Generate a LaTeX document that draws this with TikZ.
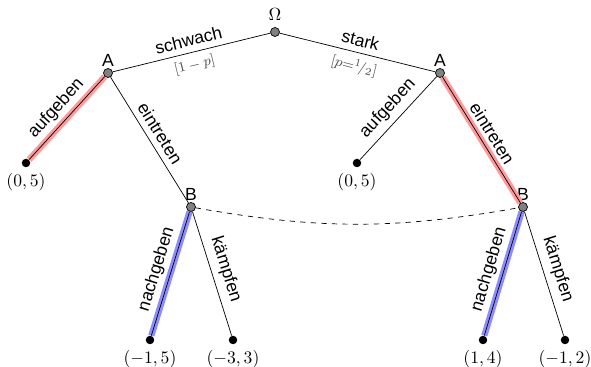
\documentclass[tikz,border=0pt]{standalone}
\usepackage{amsmath}
\usepackage{fontspec}
\setsansfont{Liberation Sans}
\usepackage{tikz}

\tikzset{
  dec/.style={circle, draw, thin, fill=gray, inner sep=0pt, minimum size=0.18cm},
  leaf/.style={circle, fill=black, inner sep=0pt, minimum size=0.17cm},
  act/.style={font=\sffamily, sloped, above},
  prob/.style={font=\footnotesize, text=black!70, sloped, below},
  redpath/.style={line width=3.6pt, red!40},
  bluepath/.style={line width=3.6pt, blue!45},
  who/.style={font=\sffamily, inner sep=1pt}
}

\begin{document}
\begin{tikzpicture}
                \useasboundingbox (0,0) rectangle (11.82,-7.34);

                % Nodes
                \node[dec, label={above:$\Omega$}] (om) at (5.5,-0.64) {};
                \node[dec, label={[who]above:A}] (a1) at (2.16,-1.46) {};
                \node[dec, label={[who]above:A}] (a2) at (8.8,-1.46) {};
                \node[dec, label={[who]above:B}] (b1) at (3.82,-4.14) {};
                \node[dec, label={[who]above:B}] (b2) at (10.46,-4.14) {};
                \node[leaf, label={below:$(0,5)$}] (l1) at (0.52,-3.26) {};
                \node[leaf, label={below:$(0,5)$}] (l2) at (7.14,-3.26) {};
                \node[leaf, label={below:$(-1,5)$}] (l3) at (3.0,-6.8) {};
                \node[leaf, label={below:$(-3,3)$}] (l4) at (4.66,-6.8) {};
                \node[leaf, label={below:$(1,4)$}] (l5) at (9.66,-6.8) {};
                \node[leaf, label={below:$(-1,2)$}] (l6) at (11.3,-6.8) {};

                % Highlights
                \draw[redpath] (a1)--(l1);
                \draw[redpath] (a2)--(b2);
                \draw[bluepath] (b1)--(l3);
                \draw[bluepath] (b2)--(l5);

                % Edges
                \draw (om)--(a1) node[midway, act] {schwach} node[midway, prob] {$[1-p]$};
                \draw (om)--(a2) node[midway, act] {stark} node[midway, prob] {$[p{=}{}^1\!/_2]$};
                \draw (a1)--(l1) node[midway, act] {aufgeben};
                \draw (a1)--(b1) node[midway, act] {eintreten};
                \draw (a2)--(l2) node[midway, act] {aufgeben};
                \draw (a2)--(b2) node[midway, act] {eintreten};
                \draw (b1)--(l3) node[midway, act] {nachgeben};
                \draw (b1)--(l4) node[midway, act] {kämpfen};
                \draw (b2)--(l5) node[midway, act] {nachgeben};
                \draw (b2)--(l6) node[midway, act] {kämpfen};
                \draw[dashed] (b1) to[bend right=10] (b2);
\end{tikzpicture}
\end{document}
